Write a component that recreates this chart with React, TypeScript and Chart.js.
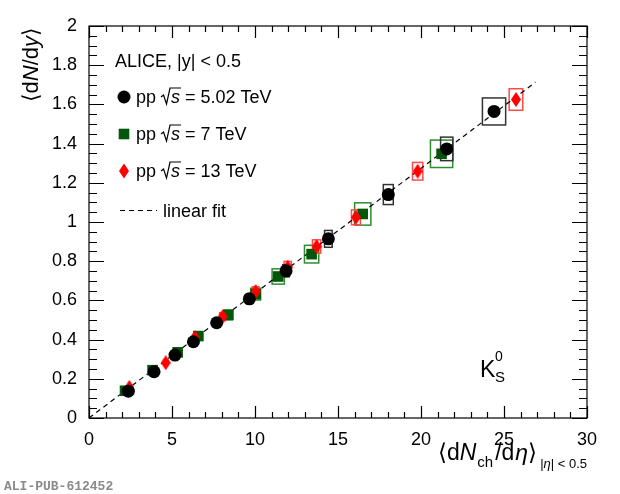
import { useEffect, useRef } from "react";
import { Chart, registerables, type Plugin } from "chart.js";

Chart.register(...registerables);

const FONT = '"Liberation Sans", Arial, sans-serif';

// pp 5.02 TeV
const x502 = [2.37, 3.92, 5.18, 6.29, 7.69, 9.66, 11.87, 14.42, 18.03, 21.55, 24.4];
const y502 = [0.137, 0.236, 0.321, 0.389, 0.486, 0.608, 0.751, 0.914, 1.14, 1.373, 1.564];
const xSys502 = [0.06, 0.09, 0.11, 0.13, 0.15, 0.18, 0.2, 0.23, 0.3, 0.37, 0.7];
const ySys502 = [0.006, 0.01, 0.013, 0.016, 0.02, 0.025, 0.031, 0.043, 0.051, 0.06, 0.069];

// pp 7 TeV
const x7 = [2.17, 3.83, 5.34, 6.59, 8.39, 10.04, 11.4, 13.41, 16.49, 21.24];
const y7 = [0.139, 0.244, 0.335, 0.418, 0.526, 0.632, 0.722, 0.836, 1.041, 1.348];
const xSys7 = [0.1, 0.14, 0.18, 0.22, 0.26, 0.3, 0.37, 0.43, 0.49, 0.67];
const ySys7 = [0.008, 0.012, 0.016, 0.02, 0.025, 0.03, 0.039, 0.045, 0.057, 0.07];

// pp 13 TeV
const x13 = [2.43, 4.62, 6.39, 8.05, 10.04, 11.97, 13.71, 16.08, 19.8, 25.72];
const y13 = [0.156, 0.282, 0.41, 0.517, 0.645, 0.769, 0.875, 1.024, 1.259, 1.625];
const xSys13 = [0.07, 0.12, 0.15, 0.18, 0.2, 0.22, 0.25, 0.27, 0.31, 0.41];
const ySys13 = [0.007, 0.012, 0.016, 0.02, 0.025, 0.03, 0.034, 0.038, 0.045, 0.055];

// linear fit through origin
const fitSlope = 0.0637;
const fitXMax = 26.9;

const energies = ["5.02", "7", "13"];

const GREEN = "#04560a";
const GREEN_BOX = "#2f8c2f";
const RED = "#ff0000";
const RED_BOX = "#ff4a4a";
const BLACK_BOX = "#333333";

type Part = { t: string; size: number; italic?: boolean; dy?: number; gap?: number };

function font(p: Part) {
  return `${p.italic ? "italic " : ""}${p.size}px ${FONT}`;
}

function partsWidth(ctx: CanvasRenderingContext2D, parts: Part[]) {
  let w = 0;
  for (const p of parts) {
    ctx.font = font(p);
    w += (p.gap ?? 0) + ctx.measureText(p.t).width;
  }
  return w;
}

function drawParts(ctx: CanvasRenderingContext2D, x: number, y: number, parts: Part[]) {
  for (const p of parts) {
    x += p.gap ?? 0;
    ctx.font = font(p);
    ctx.fillText(p.t, x, y + (p.dy ?? 0));
    x += ctx.measureText(p.t).width;
  }
  return x;
}

function makeDiamond(color: string) {
  const c = document.createElement("canvas");
  c.width = 10;
  c.height = 15;
  const g = c.getContext("2d")!;
  g.fillStyle = color;
  g.beginPath();
  g.moveTo(5, 0);
  g.lineTo(10, 7.5);
  g.lineTo(5, 15);
  g.lineTo(0, 7.5);
  g.closePath();
  g.fill();
  return c;
}

const sysBoxes: Plugin<"scatter"> = {
  id: "sysBoxes",
  beforeDatasetsDraw(chart) {
    const { ctx, chartArea, scales } = chart;
    const sx = scales.x;
    const sy = scales.y;
    const groups = [
      { xs: x7, ys: y7, ex: xSys7, ey: ySys7, c: GREEN_BOX },
      { xs: x13, ys: y13, ex: xSys13, ey: ySys13, c: RED_BOX },
      { xs: x502, ys: y502, ex: xSys502, ey: ySys502, c: BLACK_BOX },
    ];
    ctx.save();
    ctx.beginPath();
    ctx.rect(chartArea.left, chartArea.top, chartArea.right - chartArea.left, chartArea.bottom - chartArea.top);
    ctx.clip();
    ctx.lineWidth = 1.5;
    for (const g of groups) {
      ctx.strokeStyle = g.c;
      g.xs.forEach((xv, i) => {
        const l = sx.getPixelForValue(xv - g.ex[i]);
        const r = sx.getPixelForValue(xv + g.ex[i]);
        const t = sy.getPixelForValue(g.ys[i] + g.ey[i]);
        const b = sy.getPixelForValue(g.ys[i] - g.ey[i]);
        ctx.strokeRect(l, t, r - l, b - t);
      });
    }
    ctx.restore();
  },
};

const frameAndText: Plugin<"scatter"> = {
  id: "frameAndText",
  afterDraw(chart) {
    const { ctx, chartArea: a, scales } = chart;
    const sx = scales.x;
    const sy = scales.y;
    ctx.save();
    ctx.strokeStyle = "#000";
    ctx.lineWidth = 1.2;
    ctx.strokeRect(a.left, a.top, a.right - a.left, a.bottom - a.top);

    ctx.beginPath();
    for (let v = 0; v <= 30; v += 1) {
      const px = Math.round(sx.getPixelForValue(v)) + 0.5;
      const len = v % 5 === 0 ? 12 : 6;
      ctx.moveTo(px, a.bottom);
      ctx.lineTo(px, a.bottom - len);
      ctx.moveTo(px, a.top);
      ctx.lineTo(px, a.top + len);
    }
    for (let k = 0; k <= 40; k += 1) {
      const py = Math.round(sy.getPixelForValue(k * 0.05)) + 0.5;
      const len = k % 4 === 0 ? 15 : 8;
      ctx.moveTo(a.left, py);
      ctx.lineTo(a.left + len, py);
      ctx.moveTo(a.right, py);
      ctx.lineTo(a.right - len, py);
    }
    ctx.stroke();

    ctx.fillStyle = "#000";
    ctx.textBaseline = "alphabetic";
    ctx.textAlign = "left";

    // y title
    const yParts: Part[] = [
      { t: "⟨d", size: 22 },
      { t: "N", size: 22, italic: true },
      { t: "/d", size: 22 },
      { t: "y", size: 22, italic: true },
      { t: "⟩", size: 22 },
    ];
    ctx.save();
    ctx.translate(38, 27);
    ctx.rotate(-Math.PI / 2);
    drawParts(ctx, -partsWidth(ctx, yParts), 0, yParts);
    ctx.restore();

    // x title
    const xParts: Part[] = [
      { t: "⟨d", size: 23 },
      { t: "N", size: 23, italic: true },
      { t: "ch", size: 15, dy: 7, gap: 1 },
      { t: "/d", size: 23, gap: 2 },
      { t: "η", size: 23, italic: true, gap: 1 },
      { t: "⟩", size: 23 },
      { t: "|", size: 13, dy: 8, gap: 3 },
      { t: "η", size: 13, italic: true, dy: 8 },
      { t: "| < 0.5", size: 13, dy: 8 },
    ];
    drawParts(ctx, a.right - partsWidth(ctx, xParts), 460, xParts);

    // legend
    drawParts(ctx, 115, 67, [{ t: "ALICE, |y| < 0.5", size: 18 }]);
    const baselines = [103, 140, 177];
    const markerY = [97, 134, 171];
    energies.forEach((e, i) => {
      const b = baselines[i];
      let x = drawParts(ctx, 136, b, [{ t: "pp", size: 18 }]);
      x += 5;
      ctx.font = font({ t: "s", size: 18, italic: true });
      const sW = ctx.measureText("s").width;
      ctx.beginPath();
      ctx.lineWidth = 1.2;
      ctx.moveTo(x, b - 6);
      ctx.lineTo(x + 2.5, b - 8);
      ctx.lineTo(x + 5.5, b + 1);
      ctx.lineTo(x + 9, b - 15);
      ctx.lineTo(x + 10 + sW + 1, b - 15);
      ctx.stroke();
      x = drawParts(ctx, x + 10, b, [{ t: "s", size: 18, italic: true }]);
      drawParts(ctx, x, b, [{ t: ` = ${e} TeV`, size: 18 }]);
    });

    // legend markers
    ctx.fillStyle = "#000";
    ctx.beginPath();
    ctx.arc(124, markerY[0], 6.5, 0, Math.PI * 2);
    ctx.fill();
    ctx.fillStyle = GREEN;
    ctx.fillRect(124 - 5.3, markerY[1] - 5.3, 10.6, 10.6);
    ctx.fillStyle = RED;
    ctx.beginPath();
    ctx.moveTo(124, markerY[2] - 7.5);
    ctx.lineTo(129, markerY[2]);
    ctx.lineTo(124, markerY[2] + 7.5);
    ctx.lineTo(119, markerY[2]);
    ctx.closePath();
    ctx.fill();

    ctx.strokeStyle = "#000";
    ctx.lineWidth = 1.2;
    ctx.setLineDash([5, 4]);
    ctx.beginPath();
    ctx.moveTo(120, 210.5);
    ctx.lineTo(157, 210.5);
    ctx.stroke();
    ctx.setLineDash([]);
    ctx.fillStyle = "#000";
    drawParts(ctx, 163, 217, [{ t: "linear fit", size: 18 }]);

    // particle label
    drawParts(ctx, 480, 377, [{ t: "K", size: 23 }]);
    drawParts(ctx, 495, 382, [{ t: "S", size: 15 }]);
    drawParts(ctx, 495, 361, [{ t: "0", size: 14 }]);

    // publication id
    ctx.fillStyle = "#8a8a8a";
    ctx.font = `bold 13px "Liberation Mono", "DejaVu Sans Mono", monospace`;
    ctx.fillText("ALI-PUB-612452", 4, 490);
    ctx.restore();
  },
};

export default function App() {
  const canvasRef = useRef<HTMLCanvasElement>(null);
  const chartRef = useRef<Chart | null>(null);

  useEffect(() => {
    document.body.style.margin = "0";
    if (!canvasRef.current) return;
    chartRef.current?.destroy();

    const diamond = makeDiamond(RED);

    chartRef.current = new Chart(canvasRef.current, {
      type: "scatter",
      data: {
        datasets: [
          {
            type: "line",
            label: "linear fit",
            data: [
              { x: 0, y: 0 },
              { x: fitXMax, y: fitSlope * fitXMax },
            ],
            borderColor: "#000",
            borderWidth: 1.2,
            borderDash: [5, 4],
            pointRadius: 0,
            fill: false,
            order: 3,
          },
          {
            label: "pp 7 TeV",
            data: x7.map((x, i) => ({ x, y: y7[i] })),
            pointStyle: "rect",
            pointRadius: 7.5,
            backgroundColor: GREEN,
            borderWidth: 0,
            order: 2,
          },
          {
            label: "pp 13 TeV",
            data: x13.map((x, i) => ({ x, y: y13[i] })),
            pointStyle: diamond,
            pointRadius: 7,
            backgroundColor: RED,
            borderWidth: 0,
            order: 1,
          },
          {
            label: "pp 5.02 TeV",
            data: x502.map((x, i) => ({ x, y: y502[i] })),
            pointStyle: "circle",
            pointRadius: 6.5,
            backgroundColor: "#000",
            borderWidth: 0,
            order: 0,
          },
        ],
      },
      options: {
        animation: false,
        responsive: false,
        events: [],
        layout: { padding: { left: 0, top: 26, right: 33, bottom: 0 } },
        plugins: {
          legend: { display: false },
          tooltip: { enabled: false },
        },
        scales: {
          x: {
            type: "linear",
            min: 0,
            max: 30,
            grid: { display: false },
            border: { display: false },
            ticks: {
              stepSize: 5,
              padding: 3,
              color: "#000",
              font: { family: FONT, size: 18 },
              maxRotation: 0,
            },
            afterFit: (s) => {
              s.height = 76;
            },
          },
          y: {
            type: "linear",
            min: 0,
            max: 2,
            grid: { display: false },
            border: { display: false },
            ticks: {
              stepSize: 0.2,
              padding: 4,
              color: "#000",
              font: { family: FONT, size: 18 },
              autoSkip: false,
              callback: (v) => String(Number(Number(v).toFixed(1))),
            },
            afterFit: (s) => {
              s.width = 89;
            },
          },
        },
      },
      plugins: [sysBoxes, frameAndText],
    });

    return () => {
      chartRef.current?.destroy();
      chartRef.current = null;
    };
  }, []);

  return (
    <div style={{ width: 620, height: 494, background: "#fff" }}>
      <canvas ref={canvasRef} width={620} height={494} style={{ width: 620, height: 494 }} />
    </div>
  );
}
